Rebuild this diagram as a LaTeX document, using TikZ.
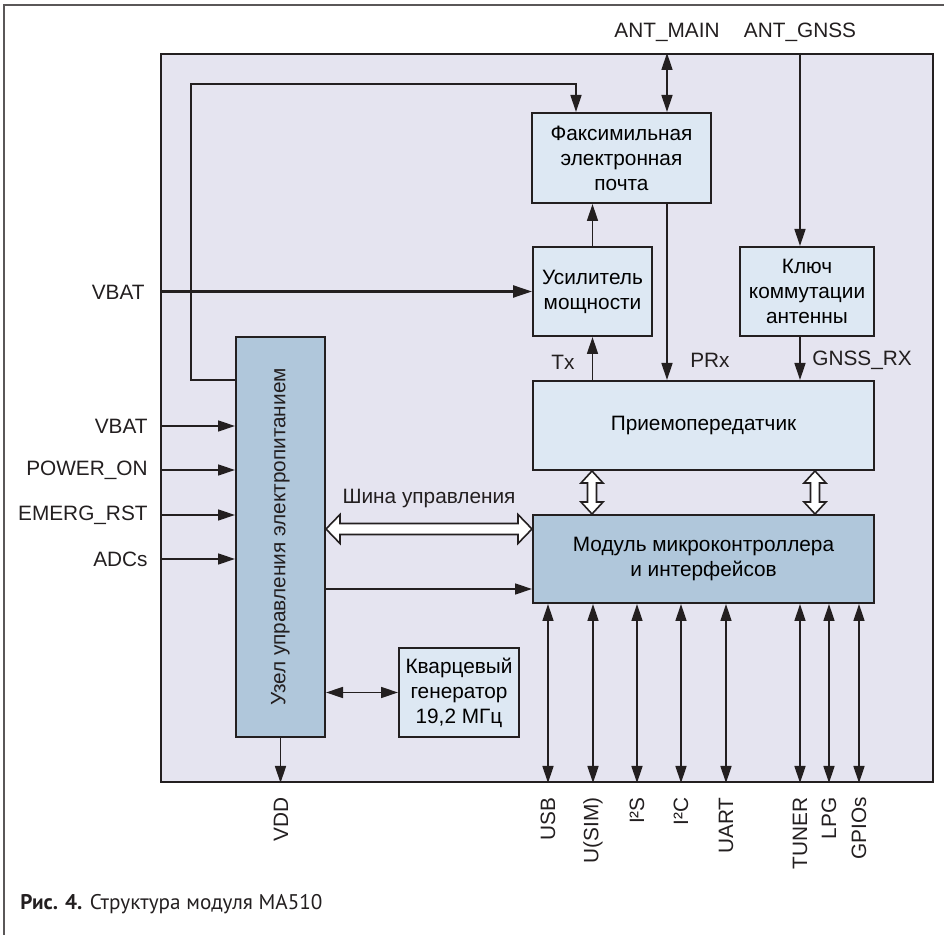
\documentclass[tikz,border=0pt]{standalone}
\usepackage{fontspec}
\setmainfont{Liberation Sans}
\newfontfamily\capfont{PT Sans}
\usetikzlibrary{arrows.meta, positioning, calc}
\definecolor{modbg}{RGB}{229,228,240}
\definecolor{blklight}{RGB}{221,232,243}
\definecolor{blkdark}{RGB}{176,199,219}
\definecolor{ink}{RGB}{35,31,32}

\tikzset{
  blk/.style={draw=ink, line width=1pt, fill=blklight, align=center, inner sep=0pt},
  blkd/.style={blk, fill=blkdark},
  sig/.style={draw=ink, line width=0.7pt},
  busarrow/.style={draw=ink, line width=0.8pt, fill=white, line join=miter},
  lbl/.style={inner sep=0pt, text=ink},
  >={Triangle[length=8.5pt,width=5.5pt]},
}

% open double arrows (bus), horizontal and vertical
\newcommand{\hbus}[2]{%
  \draw[busarrow] (#1) -- ($(#1)+(14,-14.5)$) -- ($(#1)+(14,-5.5)$) -- ($(#2)+(-14,-5.5)$)
    -- ($(#2)+(-14,-14.5)$) -- (#2) -- ($(#2)+(-14,14.5)$) -- ($(#2)+(-14,5.5)$)
    -- ($(#1)+(14,5.5)$) -- ($(#1)+(14,14.5)$) -- cycle;}
\newcommand{\vbus}[2]{%
  \draw[busarrow] (#1) -- ($(#1)+(11,12)$) -- ($(#1)+(4.5,12)$) -- ($(#2)+(4.5,-12)$)
    -- ($(#2)+(11,-12)$) -- (#2) -- ($(#2)+(-11,-12)$) -- ($(#2)+(-4.5,-12)$)
    -- ($(#1)+(-4.5,12)$) -- ($(#1)+(-11,12)$) -- cycle;}

\begin{document}
\begin{tikzpicture}[x=0.5pt,y=-0.5pt,font=\fontsize{10.4}{12.5}\selectfont]
  \useasboundingbox (0,0) rectangle (944,935);
  % page frame
  \draw[ink!75, line width=0.6pt] (944,5) -- (4,5) -- (4,935);
  % module
  \node[draw=ink, line width=1pt, fill=modbg, minimum width=386pt, minimum height=364pt] (module) at (547,418) {};
  % blocks
  \node[blk, minimum width=89.5pt, minimum height=45pt] (fax) at (621.5,158) {Факсимильная\\электронная\\почта};
  \node[blk, minimum width=59.5pt, minimum height=44.5pt] (amp) at (592.5,291.5) {Усилитель\\мощности};
  \node[blk, minimum width=67pt, minimum height=44.5pt] (key) at (807,291.5) {Ключ\\коммутации\\антенны};
  \node[blk, minimum width=170.5pt, minimum height=44.5pt] (trx) at (703.5,425.5) {Приемопередатчик};
  \node[blkd, minimum width=170.5pt, minimum height=44pt] (mcu) at (703.5,559) {Модуль микроконтроллера\\и интерфейсов};
  \node[blkd, minimum width=44.5pt, minimum height=200pt] (pw) at (280.5,537) {};
  \node[lbl, rotate=90] (pwtext) at (pw) {Узел управления электропитанием};
  \node[blk, minimum width=60pt, minimum height=44.5pt] (xo) at (459,692.5) {Кварцевый\\генератор\\19,2 МГц};

  % antennas
  \node[lbl] (antm) at (667,32) {ANT\_MAIN};
  \node[lbl] (antg) at (800,32) {ANT\_GNSS};
  \draw[sig,<->] (module.north -| antm) -- (fax.north -| antm);
  \draw[sig,->] (module.north -| antg) -- (key.north -| antg);

  % RF path
  \draw[sig,->] (amp.north) -- (fax.south -| amp.north);
  \draw[sig,->] (trx.north -| amp) -- (amp.south);
  \draw[sig,->] (fax.south -| antm) -- (trx.north -| antm);
  \draw[sig,->] (key.south -| antg) -- (trx.north -| antg);
  \node[lbl] (tx) at (563,362) {Tx};
  \node[lbl] (prx) at (710,360) {PRx};
  \node[lbl, anchor=west] (gnssrx) at (812,360) {GNSS\_RX};

  % supply of the amplifier
  \node[lbl, anchor=east] (vbat) at (145,292) {VBAT};
  \draw[sig, line width=1.2pt, -{Triangle[length=9.5pt,width=6pt]}] (module.west |- amp) -- (amp.west);

  % power control loop to the fax block
  \coordinate (loop) at (191,84);
  \draw[sig,->] ($(pw.north west)+(0,44)$) -| (loop) -| ($(fax.north west)+(45,0)$);

  % inputs of the power block
  \foreach \y/\txt [count=\i] in {426/VBAT, 470/POWER\_ON, 515/EMERG\_RST, 559/ADCs} {
    \node[lbl, anchor=east] (in\i) at (148,\y) {\txt};
    \draw[sig,->] (module.west |- in\i) -- (pw.west |- in\i);
  }

  % control bus
  \coordinate (busy) at (0,529);
  \coordinate (busL) at (pw.east |- busy);
  \coordinate (busR) at (mcu.west |- busy);
  \hbus{busL}{busR}
  \node[lbl] (bus) at (429,499) {Шина управления};
  \coordinate (ctly) at (0,589);
  \draw[sig,->] (pw.east |- ctly) -- (mcu.west |- ctly);

  % transceiver <-> controller
  \coordinate (vb1t) at (trx.south -| 592,0);
  \coordinate (vb1b) at (mcu.north -| 592,0);
  \coordinate (vb2t) at (trx.south -| 815,0);
  \coordinate (vb2b) at (mcu.north -| 815,0);
  \vbus{vb1t}{vb1b}
  \vbus{vb2t}{vb2b}

  % clock and supply out
  \draw[sig,<->] (pw.east |- xo) -- (xo.west);
  \draw[sig,->] (pw.south) -- (module.south -| pw);
  \node[lbl, rotate=90, anchor=east] (vdd) at (281,797) {VDD};

  % interfaces
  \foreach \px/\txt [count=\i] in {548/USB, 593/{U(SIM)}, 637/I²S, 681/I²C, 726/UART, 800/TUNER, 829/LPG, 859/GPIOs} {
    \node[lbl, rotate=90, anchor=east] (pin\i) at (\px,797) {\txt};
    \draw[sig,<->] (mcu.south -| pin\i) -- (module.south -| pin\i);
  }

  % caption
  \node[lbl, anchor=base west, font=\capfont\fontsize{10.6}{12}\selectfont] (cap) at (20,910) {\textbf{Рис. 4.} Структура модуля MA510};
\end{tikzpicture}
\end{document}
